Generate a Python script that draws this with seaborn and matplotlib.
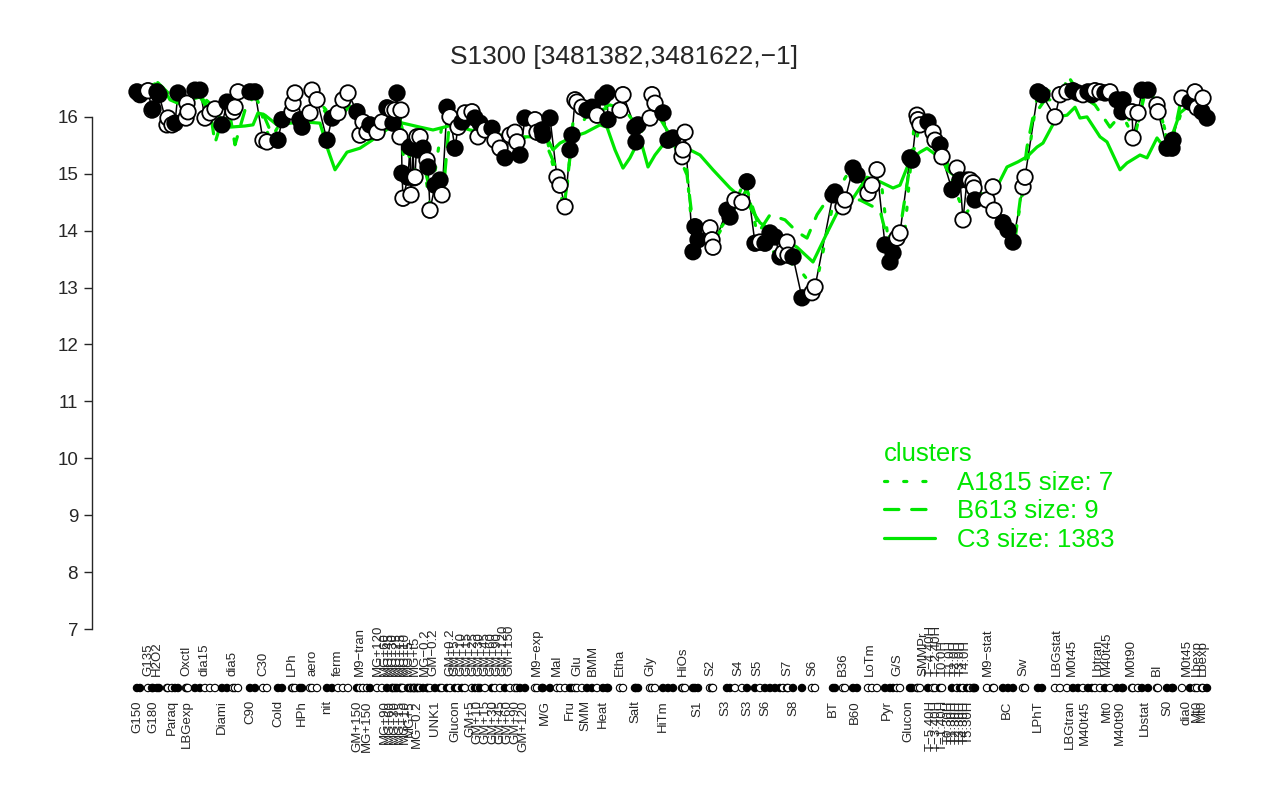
import numpy as np
import pandas as pd
import seaborn as sns
import matplotlib.pyplot as plt
from matplotlib.lines import Line2D

# samples along the condition axis: position, expression level, marker fill (b/w)
sample_pos = [2, 5, 13, 17, 18, 22, 24, 32, 33, 37,
              40, 43, 51, 52, 53, 60, 65, 70, 75, 80,
              87, 92, 98, 100, 103, 115, 120, 128, 132, 143,
              147, 157, 158, 160, 165, 167, 175, 177, 182, 192,
              197, 203, 208, 213, 222, 225, 228, 232, 235, 242,
              247, 252, 257, 258, 260, 262, 265, 266, 267, 268,
              273, 275, 276, 278, 279, 280, 282, 283, 285, 288,
              292, 293, 295, 300, 305, 307, 312, 315, 320, 323,
              327, 330, 337, 340, 343, 345, 350, 357, 360, 365,
              370, 375, 380, 382, 385, 390, 400, 402, 407, 408,
              415, 422, 425, 430, 435, 437, 440, 442, 447, 452,
              457, 462, 468, 472, 473, 485, 488, 500, 501, 503,
              515, 517, 520, 528, 533, 538, 547, 548, 550, 558,
              560, 563, 575, 577, 578, 592, 595, 600, 607, 612,
              620, 625, 630, 635, 640, 645, 648, 652, 653, 658,
              667, 677, 680, 698, 700, 708, 710, 718, 722, 733,
              737, 742, 750, 755, 758, 762, 765, 775, 777, 782,
              783, 785, 793, 798, 800, 805, 807, 817, 822, 825,
              828, 832, 835, 838, 839, 840, 852, 858, 859, 868,
              873, 878, 888, 890, 903, 907, 920, 925, 932, 938,
              943, 948, 953, 957, 960, 965, 970, 975, 982, 987,
              988, 997, 998, 1003, 1007, 1013, 1022, 1023, 1032, 1037,
              1038, 1047, 1055, 1060, 1062, 1067, 1068, 1072]
expr_val = [16.44, 16.39, 16.46, 16.12, 16.14, 16.44, 16.39, 15.86, 15.98, 15.86,
            15.89, 16.42, 15.98, 16.24, 16.09, 16.47, 16.47, 15.98, 16.07, 16.14,
            15.86, 16.26, 16.09, 16.17, 16.44, 16.44, 16.44, 15.59, 15.56, 15.59,
            15.95, 16.09, 16.24, 16.42, 15.95, 15.82, 16.07, 16.47, 16.30, 15.59,
            15.98, 16.07, 16.30, 16.42, 16.09, 15.68, 15.91, 15.73, 15.86, 15.73,
            15.91, 16.16, 16.12, 15.89, 16.12, 16.42, 15.65, 16.12, 15.01, 14.57,
            14.94, 15.47, 14.63, 15.45, 14.93, 14.94, 15.65, 15.42, 15.65, 15.45,
            15.24, 15.12, 14.36, 14.80, 14.89, 14.63, 16.17, 16.00, 15.45, 15.82,
            15.91, 16.07, 16.09, 15.98, 15.65, 15.89, 15.77, 15.80, 15.59, 15.45,
            15.28, 15.68, 15.73, 15.56, 15.33, 15.98, 15.95, 15.73, 15.77, 15.68,
            15.98, 14.94, 14.80, 14.42, 15.42, 15.68, 16.30, 16.26, 16.17, 16.12,
            16.17, 16.03, 16.35, 16.42, 15.95, 16.12, 16.39, 15.82, 15.56, 15.86,
            15.98, 16.39, 16.24, 16.07, 15.59, 15.63, 15.30, 15.42, 15.73, 13.63,
            14.07, 13.84, 14.05, 13.84, 13.71, 14.36, 14.24, 14.54, 14.50, 14.86,
            13.78, 13.80, 13.78, 13.96, 13.89, 13.54, 13.61, 13.80, 13.57, 13.54,
            12.82, 12.91, 13.01, 14.63, 14.68, 14.42, 14.54, 15.10, 14.98, 14.66,
            14.80, 15.07, 13.75, 13.45, 13.61, 13.87, 13.96, 15.28, 15.24, 16.03,
            15.95, 15.86, 15.91, 15.73, 15.59, 15.51, 15.30, 14.72, 15.10, 14.89,
            14.19, 14.89, 14.89, 14.84, 14.75, 14.54, 14.54, 14.77, 14.36, 14.14,
            14.01, 13.80, 14.77, 14.94, 16.44, 16.39, 16.00, 16.39, 16.44, 16.46,
            16.42, 16.39, 16.44, 16.39, 16.46, 16.44, 16.42, 16.44, 16.30, 16.09,
            16.30, 16.09, 15.63, 16.07, 16.47, 16.47, 16.21, 16.09, 15.45, 15.45,
            15.59, 16.33, 16.26, 16.44, 16.16, 16.09, 16.33, 15.98]
sample_fill = list("bbwwbbbwww" "bbwwwbbwww" "bbwwwbbwwb" "bwwwbbwwwb" "bwwwbwwwbw"
                   "wbwbwbwwbw" "bbwbwwwbwb" "wbwbbwbwbw" "bwwbwbwbww" "bwwwbbwwbb"
                   "bwwwbbwwwb" "bwbbbwwbbb" "wwwbbbwwwb" "bbwwwbbwwb" "bwbbbbwwwb"
                   "bwwbbwwbbw" "wwbbbwwbbw" "wwbwwbwbwb" "wbwwwbwwwb" "bbwwbbwwwb"
                   "bwbbwwbwbb" "bwwwbbwwbb" "bwbwwbwb")

# cluster profiles
c3_pos = [0, 10, 20, 28, 35, 43, 55, 65, 72, 80, 87, 95, 110, 118, 123, 130, 142, 155,
          170, 185, 193, 200, 212, 225, 237, 248, 263, 285, 298, 318, 335, 350, 365,
          385, 405, 412, 418, 425, 438, 450, 465, 472, 480, 488, 495, 505, 513, 520,
          528, 538, 555, 565, 578, 595, 612, 625, 645, 662, 678, 692, 702, 718, 732,
          745, 758, 765, 775, 785, 792, 808, 812, 822, 835, 845, 855, 862, 872, 883,
          892, 902, 908, 922, 932, 940, 945, 952, 965, 972, 985, 992, 1005, 1012,
          1022, 1025, 1032, 1038, 1045, 1052, 1065, 1072]
c3_val = [16.47, 16.51, 16.58, 16.51, 16.30, 16.24, 16.30, 16.35, 16.16, 16.07, 15.95,
          15.82, 15.84, 15.86, 16.07, 16.03, 15.86, 15.89, 15.91, 15.89, 15.42, 15.07,
          15.38, 15.45, 15.59, 15.73, 15.91, 15.82, 15.77, 15.86, 15.77, 15.72, 15.68,
          15.65, 15.65, 15.63, 15.42, 15.54, 15.65, 15.72, 15.86, 15.82, 15.42, 15.10,
          15.28, 15.63, 15.12, 15.33, 15.51, 15.59, 15.42, 15.33, 15.07, 14.75, 14.49,
          14.14, 13.89, 13.71, 13.45, 13.96, 14.31, 14.57, 14.94, 14.86, 14.75, 14.80,
          15.24, 15.38, 15.45, 15.24, 15.07, 14.93, 14.98, 14.66, 14.59, 14.77, 15.12,
          15.21, 15.30, 15.47, 15.54, 16.00, 16.03, 16.17, 15.98, 16.00, 15.65, 15.56,
          15.07, 15.19, 15.33, 15.28, 15.63, 15.56, 15.51, 15.72, 16.07, 16.17, 16.07,
          16.00]
b613_pos = [0, 20, 35, 50, 65, 75, 80, 87, 95, 100, 110, 120, 135, 150, 165, 185, 200,
            215, 230, 250, 265, 275, 285, 295, 308, 315, 335, 355, 370, 385, 405, 422,
            430, 437, 455, 475, 490, 505, 520, 535, 552, 558, 565, 580, 595, 612, 625,
            635, 650, 662, 672, 682, 692, 705, 725, 745, 752, 765, 775, 785, 800, 810,
            825, 840, 855, 870, 880, 892, 898, 910, 925, 933, 945, 960, 975, 990, 1000,
            1012, 1025, 1035, 1045, 1060, 1072]
b613_val = [16.44, 16.65, 16.39, 16.21, 16.39, 16.12, 15.54, 15.95, 16.03, 15.51, 16.12,
            16.39, 15.77, 15.98, 16.03, 16.21, 15.86, 16.21, 15.77, 16.03, 15.95, 15.24,
            15.42, 14.72, 14.63, 16.03, 15.95, 15.77, 15.42, 15.59, 15.77, 15.07, 14.54,
            15.59, 16.12, 16.21, 16.12, 15.77, 16.12, 15.68, 14.98, 14.10, 13.92, 13.84,
            14.28, 14.72, 14.01, 14.28, 14.19, 13.98, 13.87, 14.28, 14.54, 14.54, 14.54,
            14.36, 13.87, 14.01, 15.15, 15.86, 15.59, 15.15, 14.89, 14.63, 14.45, 14.10,
            13.84, 15.47, 16.00, 16.30, 16.30, 16.72, 16.39, 16.21, 15.82, 16.12, 15.68,
            16.56, 16.12, 15.36, 16.21, 16.30, 15.98]
a1815_pos = [0, 25, 43, 60, 80, 105, 120, 135, 150, 165, 182, 200, 215, 230, 245, 263,
             270, 275, 285, 295, 310, 325, 345, 365, 380, 390, 410, 420, 430, 440, 465,
             485, 505, 520, 535, 550, 558, 570, 595, 610, 625, 645, 665, 680, 700, 715,
             730, 745, 755, 770, 780, 800, 810, 820, 830, 845, 865, 878, 890, 903, 925,
             945, 965, 985, 1000, 1010, 1025, 1035, 1050, 1072]
a1815_val = [16.44, 16.47, 16.39, 16.47, 16.16, 16.39, 16.42, 15.59, 16.03, 15.86, 16.30,
             15.95, 16.39, 15.86, 15.77, 16.39, 14.98, 14.54, 15.59, 14.45, 16.21, 15.86,
             15.86, 15.51, 15.68, 15.95, 15.77, 14.98, 14.36, 16.30, 16.12, 16.21, 15.68,
             16.30, 15.59, 15.42, 13.84, 13.66, 14.28, 14.89, 13.75, 13.57, 13.31, 12.96,
             14.63, 15.07, 14.72, 15.03, 13.57, 14.01, 16.03, 15.68, 15.33, 14.72, 14.28,
             14.63, 14.28, 13.75, 14.89, 16.47, 16.44, 16.42, 16.44, 16.12, 15.59, 16.51,
             16.12, 15.42, 16.30, 15.98]

# condition labels, alternating above / below the sample row
top_labels = ["G135", "H2O2", "Oxctl", "dia15", "dia5", "C30", "LPh", "aero", "ferm",
              "M9\u2212tran", "MG+120", "MG+60", "MG+45", "MG+30", "MG+25", "MG+15",
              "MG+10", "MG+5", "MG+t5", "MG\u22120.2", "GM\u22120.2", "GM+0.2", "GM+5",
              "GM+10", "GM+15", "GM+25", "GM+30", "GM+45", "GM+60", "GM+90", "GM+120",
              "GM+150", "M9\u2212exp", "Mal", "Glu", "BMM", "Etha", "Gly", "HiOs", "S2",
              "S4", "S5", "S7", "S6", "B36", "LoTm", "G/S", "SMMPr", "T\u22124.40H",
              "T\u22122.40H", "T0.0H", "T1.0H", "T2.0H", "T3.0H", "T4.0H", "M9\u2212stat",
              "Sw", "LBGstat", "M0t45", "Lbtran", "M40t45", "M0t90", "BI", "M0t45",
              "Lbexp", "Lbexp"]
top_label_pos = [13, 22, 51, 70, 98, 128, 157, 177, 203, 225, 243, 250, 254, 258, 262,
                 266, 270, 274, 280, 290, 298, 315, 320, 326, 332, 338, 344, 350, 356,
                 362, 368, 374, 402, 422, 442, 458, 485, 515, 548, 575, 603, 622, 652,
                 677, 708, 735, 762, 788, 796, 802, 808, 816, 821, 826, 831, 853, 888,
                 922, 937, 963, 972, 996, 1022, 1052, 1062, 1068]
bottom_labels = ["G150", "G180", "Paraq", "LBGexp", "Diami", "C90", "Cold", "HPh", "nit",
                 "GM+150", "MG+150", "MG+90", "MG+60", "MG+30", "MG+15", "MG+10", "MG+5",
                 "MG\u22120.2", "UNK1", "Glucon", "GM+5", "GM+10", "GM+15", "GM+30",
                 "GM+45", "GM+60", "GM+90", "GM+120", "M/G", "Fru", "SMM", "Heat", "Salt",
                 "HiTm", "S1", "S3", "S3", "S6", "S8", "BT", "B60", "Pyr", "Glucon",
                 "T\u22125.40H", "T\u22123.40H", "T\u22121.40H", "T0.30H", "T1.30H",
                 "T2.30H", "T3.30H", "T4.30H", "T5.30H", "BC", "LPhT", "LBGtran", "M40t45",
                 "Mt0", "M40t90", "Lbstat", "S0", "dia0", "Mt0", "Mt0"]
bottom_label_pos = [2, 18, 37, 52, 87, 115, 143, 167, 192, 222, 232, 250, 255, 260, 265,
                    270, 275, 282, 300, 320, 335, 342, 350, 358, 365, 372, 380, 388, 410,
                    435, 450, 468, 500, 528, 562, 590, 612, 630, 658, 698, 720, 752, 773,
                    796, 802, 808, 814, 818, 822, 826, 830, 834, 872, 903, 935, 950, 972,
                    985, 1010, 1032, 1052, 1062, 1067]

y_ticks = list(range(7, 17))
title = "S1300 [3481382,3481622,\u22121]"
legend_labels = ["A1815 size: 7", "B613 size: 9", "C3 size: 1383"]
green = "#00e600"

sns.set_style("white")
plt.rcParams['font.family'] = ['Liberation Sans', 'DejaVu Sans']

fig = plt.figure(figsize=(12.8, 8), dpi=100)
ax = fig.add_axes([92 / 1280, 1 - 652 / 800, (1248 - 92) / 1280, (652 - 49) / 800])

df = pd.DataFrame({"pos": sample_pos, "expr": expr_val, "fill": sample_fill})

sns.lineplot(data=df, x="pos", y="expr", estimator=None, sort=False,
             color="black", lw=1.1, ax=ax, zorder=2)

styles = [(a1815_pos, a1815_val, (0, (1, 5))),
          (b613_pos, b613_val, (0, (4.5, 4))),
          (c3_pos, c3_val, "-")]
for xs, ys, ls in styles:
    sns.lineplot(x=xs, y=ys, estimator=None, sort=False, color=green, lw=2.3,
                 linestyle=ls, dash_capstyle="round", ax=ax, zorder=3)

sns.scatterplot(data=df, x="pos", y="expr", hue="fill",
                palette={"b": "black", "w": "white"}, edgecolor="black",
                linewidth=1.3, s=125, legend=False, ax=ax, zorder=4)

# sample row under the plot
trans = ax.get_xaxis_transform()
ax.scatter(df["pos"], np.full(len(df), -0.0597), s=28,
           c=["black" if f == "b" else "white" for f in sample_fill],
           edgecolors="black", linewidths=0.8, transform=trans, clip_on=False, zorder=5)
for lab, p in zip(top_labels, top_label_pos):
    ax.text(p, -0.040, lab, rotation=90, ha="center", va="bottom", fontsize=9.5,
            transform=trans, clip_on=False)
for lab, p in zip(bottom_labels, bottom_label_pos):
    ax.text(p, -0.080, lab, rotation=90, ha="center", va="top", fontsize=9.5,
            transform=trans, clip_on=False)

ax.set_xlim(-43, 1113)
ax.set_ylim(6.596, 17.193)
ax.set_yticks(y_ticks)
ax.set_yticklabels([str(t) for t in y_ticks], fontsize=13.5)
ax.set_xticks([])
ax.set_xlabel("")
ax.set_ylabel("")
for s in ["top", "right", "bottom"]:
    ax.spines[s].set_visible(False)
ax.spines["left"].set_bounds(7, 16)
ax.spines["left"].set_linewidth(1)
ax.tick_params(axis="y", direction="out", length=6, width=1, left=True, pad=4)

fig.text(624 / 1280, 1 - 57 / 800, title, ha="center", va="center", fontsize=19)

handles = [Line2D([], [], color=green, lw=2.3, linestyle=ls, dash_capstyle="round")
           for _, _, ls in styles]
leg = ax.legend(handles, legend_labels, title="clusters", loc="upper left",
                bbox_to_anchor=(884 / 1280, 1 - 442 / 800), bbox_transform=fig.transFigure,
                frameon=False, fontsize=18.5, title_fontsize=18.5, handlelength=2.0,
                handletextpad=0.85, labelspacing=0.18, borderpad=0, borderaxespad=0,
                alignment="left")
leg.get_title().set_color(green)
for t in leg.get_texts():
    t.set_color(green)

fig.savefig("out.png", dpi=100)
